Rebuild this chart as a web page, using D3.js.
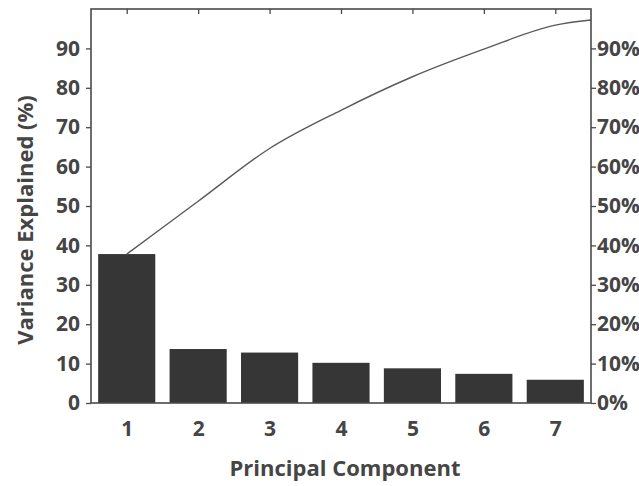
<!DOCTYPE html>
<html><head><meta charset="utf-8">
<script src="https://cdn.jsdelivr.net/npm/d3@7"></script>
<style>
html,body{margin:0;padding:0;background:#fff;}
svg text{font-family:"Open Sans",sans-serif;font-weight:700;fill:#454545;}
</style></head>
<body><svg id="chart" width="639" height="486"></svg>
<script>
const components = [1, 2, 3, 4, 5, 6, 7];
const varianceExplained = [37.8, 13.7, 12.8, 10.2, 8.8, 7.4, 5.9];
const cumulativeExplained = [37.8, 51.2, 64.6, 74.3, 82.8, 89.8, 95.9];
const cumulativeAtEdge = 97.2; // line value where it meets the right frame
const leftTicks = [0, 10, 20, 30, 40, 50, 60, 70, 80, 90];
const rightTicks = [0, 10, 20, 30, 40, 50, 60, 70, 80, 90];

const svg = d3.select("#chart");
const m = {left: 91, right: 591, top: 9, bottom: 403};
const x = d3.scaleLinear().domain([0.5, 7.5]).range([m.left, m.right]);
const y = d3.scaleLinear().domain([0, 100]).range([m.bottom, m.top]);
const yR = d3.scaleLinear().domain([0, 100]).range([m.bottom, m.top]);
const bw = (x(2) - x(1)) * 0.8;
const axisCol = "#4a4a4a";

// bars
svg.append("g").selectAll("rect").data(components).join("rect")
  .attr("x", (d) => x(d) - bw / 2)
  .attr("y", (d, i) => y(varianceExplained[i]))
  .attr("width", bw)
  .attr("height", (d, i) => y(0) - y(varianceExplained[i]))
  .attr("fill", "#363636");

// cumulative line
const pts = components.map((c, i) => [c, cumulativeExplained[i]]);
pts.push([7.5, cumulativeAtEdge]);
svg.append("path").datum(pts)
  .attr("d", d3.line().curve(d3.curveMonotoneX).x(d => x(d[0])).y(d => y(d[1])))
  .attr("fill", "none").attr("stroke", "#5a5a5a").attr("stroke-width", 1.4);

// frame
svg.append("rect").attr("x", m.left).attr("y", m.top)
  .attr("width", m.right - m.left).attr("height", m.bottom - m.top)
  .attr("fill", "none").attr("stroke", axisCol).attr("stroke-width", 1.6);

// left axis
const gl = svg.append("g").attr("transform", `translate(${m.left},0)`)
  .call(d3.axisLeft(y).tickValues(leftTicks).tickSize(5).tickPadding(6));
gl.select(".domain").remove();
gl.selectAll("line").attr("stroke", axisCol).attr("stroke-width", 1.3);
gl.selectAll("text").attr("font-size", 21).attr("fill", "#454545");

// right axis
const gr = svg.append("g").attr("transform", `translate(${m.right},0)`)
  .call(d3.axisRight(yR).tickValues(rightTicks).tickSize(5).tickPadding(1).tickFormat(d => d + "%"));
gr.select(".domain").remove();
gr.selectAll("line").attr("stroke", axisCol).attr("stroke-width", 1.3);
gr.selectAll("text").attr("font-size", 21).attr("fill", "#454545");

// top axis (inward ticks)
const gt = svg.append("g").attr("transform", `translate(0,${m.top})`)
  .call(d3.axisBottom(x).tickValues(components).tickSize(5).tickFormat(""));
gt.select(".domain").remove();
gt.selectAll("line").attr("stroke", axisCol).attr("stroke-width", 1.3);

// bottom axis labels
const gb = svg.append("g").attr("transform", `translate(0,${m.bottom})`)
  .call(d3.axisBottom(x).tickValues(components).tickSize(0).tickPadding(18).tickFormat(d3.format("d")));
gb.select(".domain").remove();
gb.selectAll("text").attr("font-size", 21).attr("fill", "#454545");

// axis titles
svg.append("text").attr("x", (m.left + m.right) / 2 + 4).attr("y", 476)
  .attr("text-anchor", "middle").attr("font-size", 22).text("Principal Component");
svg.append("text").attr("transform", "translate(33,220) rotate(-90)")
  .attr("text-anchor", "middle").attr("font-size", 22).text("Variance Explained (%)");
</script></body></html>
